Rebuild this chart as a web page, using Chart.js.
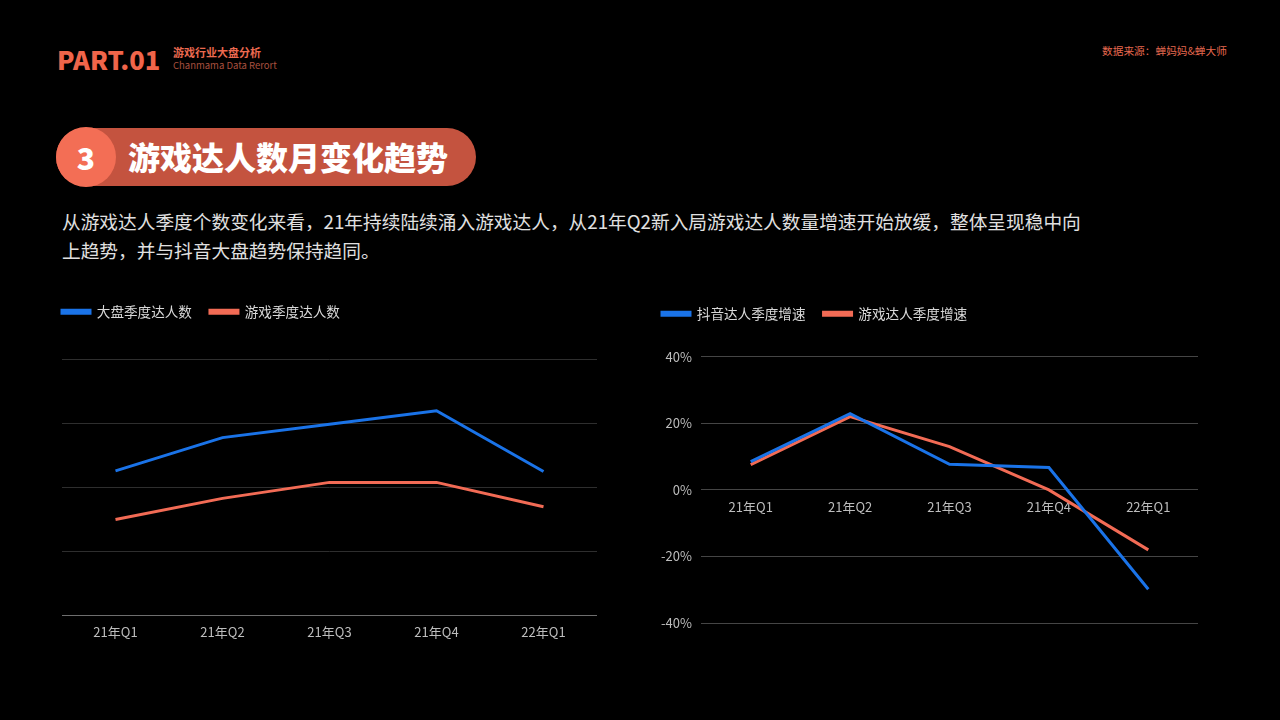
<!DOCTYPE html>
<html>
<head>
<meta charset="utf-8">
<script src="https://cdn.jsdelivr.net/npm/chart.js@4/dist/chart.umd.min.js"></script>
<style>
  html, body { margin: 0; padding: 0; background: #000; }
  body { width: 1280px; height: 720px; position: relative; overflow: hidden; font-family: "Noto Sans CJK SC", "Noto Sans", sans-serif; }
  .abs { position: absolute; }
  #part { left: 57px; top: 40px; font-size: 25.5px; font-weight: 900; color: #f0654a; }
  #sub1 { left: 173px; top: 44px; font-size: 11px; font-weight: 700; color: #ec6a50; }
  #sub2 { left: 173px; top: 58px; font-size: 9.5px; color: #a9503f; }
  #source { left: 1102px; top: 43px; font-size: 10.7px; color: #e6694f; }
  #pill { left: 56px; top: 128px; width: 420px; height: 58px; border-radius: 29px; background: #c4533f; }
  #circle { left: 56px; top: 127px; width: 60px; height: 60px; border-radius: 30px; background: #f36e55; color: #fff; font-size: 30px; font-weight: 900; text-align: center; line-height: 60px; }
  #title { left: 128px; top: 134px; font-size: 32px; font-weight: 900; color: #fff; line-height: 44px; }
  #para { left: 62px; top: 206px; font-size: 18.7px; color: #e0e0e0; line-height: 29px; }
  #leftBox { left: 44px; top: 287px; width: 553px; height: 354px; }
  #rightBox { left: 644px; top: 289px; width: 554px; height: 351px; }
</style>
</head>
<body>
<div class="abs" id="part">PART.01</div>
<div class="abs" id="sub1">游戏行业大盘分析</div>
<div class="abs" id="sub2">Chanmama Data Rerort</div>
<div class="abs" id="source">数据来源：蝉妈妈&amp;蝉大师</div>
<div class="abs" id="pill"></div>
<div class="abs" id="circle">3</div>
<div class="abs" id="title">游戏达人数月变化趋势</div>
<div class="abs" id="para">从游戏达人季度个数变化来看，21年持续陆续涌入游戏达人，从21年Q2新入局游戏达人数量增速开始放缓，整体呈现稳中向<br>上趋势，并与抖音大盘趋势保持趋同。</div>
<div class="abs" id="leftBox"><canvas id="countChart"></canvas></div>
<div class="abs" id="rightBox"><canvas id="growthChart"></canvas></div>
<script>
const quarters = ["21年Q1", "21年Q2", "21年Q3", "21年Q4", "22年Q1"];

// left chart: no y labels in the picture, values read as relative heights
const marketCount = [2.26, 2.78, 2.99, 3.2, 2.25];
const gameCount = [1.5, 1.83, 2.08, 2.08, 1.7];

// right chart: quarterly growth, percent
const douyinGrowth = [8.5, 22.9, 7.7, 6.7, -29.8];
const gameGrowth = [7.6, 22, 13, 0, -18];
const growthTicks = [-40, -20, 0, 20, 40];

const BLUE = "#1a73e8";
const ORANGE = "#f26b55";
const tickColor = "#bdbdbd";
const font = { family: "'Noto Sans CJK SC', sans-serif", size: 13 };

// push the plot down under the legend
const legendGap = {
  id: "legendGap",
  beforeInit(chart, args, opts) {
    const fit = chart.legend.fit;
    chart.legend.fit = function () {
      fit.bind(chart.legend)();
      this.height += opts.extra || 0;
    };
  }
};

function lineSet(label, data, color) {
  return {
    label, data,
    borderColor: color,
    backgroundColor: color,
    borderWidth: 3,
    pointRadius: 0,
    tension: 0
  };
}

function legendOpts() {
  return {
    position: "top",
    align: "start",
    labels: { color: "#d8d8d8", font: { family: font.family, size: 13.6 }, boxWidth: 28, boxHeight: 3, padding: 18 }
  };
}

new Chart(document.getElementById("countChart"), {
  type: "line",
  data: {
    labels: quarters,
    datasets: [lineSet("大盘季度达人数", marketCount, BLUE), lineSet("游戏季度达人数", gameCount, ORANGE)]
  },
  plugins: [legendGap],
  options: {
    responsive: true,
    maintainAspectRatio: false,
    animation: false,
    layout: { padding: 0 },
    plugins: { legend: legendOpts(), tooltip: { enabled: false }, legendGap: { extra: 31 } },
    scales: {
      x: {
        offset: true,
        grid: { display: false },
        border: { color: "#6e6e6e", width: 1 },
        ticks: { color: tickColor, font, padding: 1 }
      },
      y: {
        min: 0, max: 4,
        afterFit(scale) { scale.width = 18; },
        grid: { color: "#2e2e2e", drawTicks: false },
        border: { display: false },
        ticks: { display: false, stepSize: 1 }
      }
    }
  }
});

new Chart(document.getElementById("growthChart"), {
  type: "line",
  data: {
    labels: quarters,
    datasets: [lineSet("抖音达人季度增速", douyinGrowth, BLUE), lineSet("游戏达人季度增速", gameGrowth, ORANGE)]
  },
  plugins: [legendGap],
  options: {
    responsive: true,
    maintainAspectRatio: false,
    animation: false,
    layout: { padding: 0 },
    plugins: { legend: legendOpts(), tooltip: { enabled: false }, legendGap: { extra: 26 } },
    scales: {
      x: {
        position: { y: 0 },
        offset: true,
        grid: { display: false },
        border: { display: false },
        ticks: { color: tickColor, font, padding: 1 }
      },
      y: {
        min: growthTicks[0], max: growthTicks[growthTicks.length - 1],
        afterFit(scale) { scale.width = 57; },
        afterBuildTicks(scale) { scale.ticks = growthTicks.map((v) => ({ value: v })); },
        grid: { color: "#454545", drawTicks: false },
        border: { display: false },
        ticks: { color: tickColor, font, padding: 9, callback: (v) => v + "%" }
      }
    }
  }
});
</script>
</body>
</html>
